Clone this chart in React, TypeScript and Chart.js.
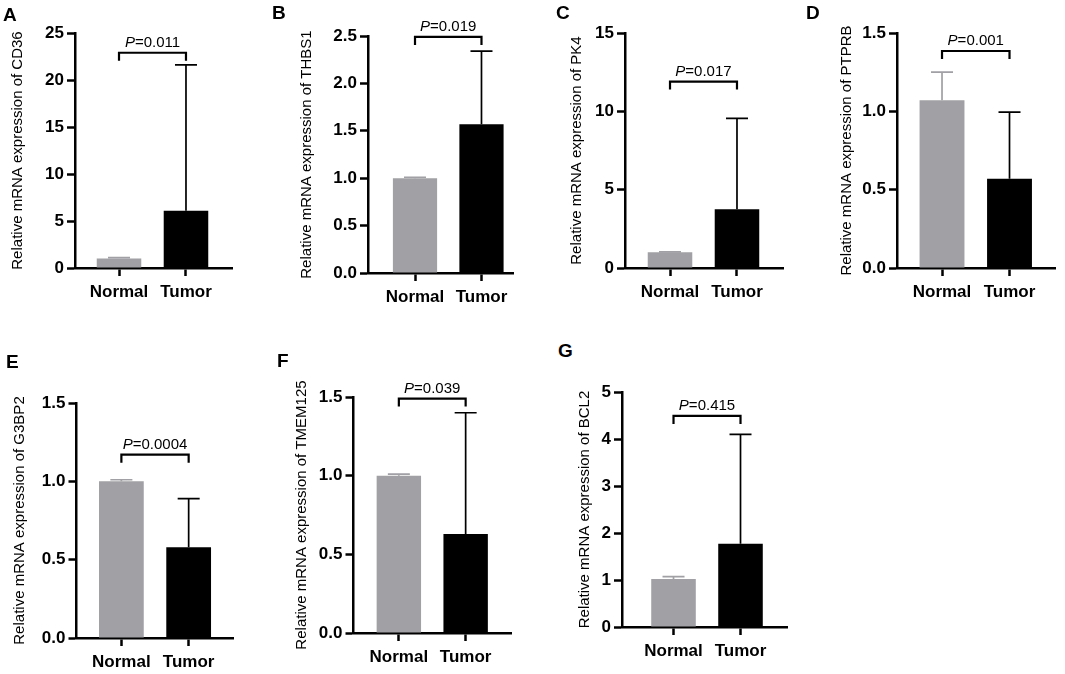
import React, { useEffect, useRef } from "react";
import { Chart, registerables } from "chart.js";
Chart.register(...registerables);

const FONT = "'Liberation Sans', Arial, Helvetica, sans-serif";

// ---------- data ----------
const panelLetters = ["A", "B", "C", "D", "E", "F", "G"];
const genes = ["CD36", "THBS1", "PK4", "PTPRB", "G3BP2", "TMEM125", "BCL2"];
const categories = ["Normal", "Tumor"];
const normalMean = [1.0, 1.0, 1.0, 1.07, 1.0, 1.0, 1.02];
const normalErr = [0.1, 0.01, 0.03, 0.18, 0.01, 0.01, 0.05];
const tumorMean = [6.1, 1.57, 3.75, 0.57, 0.58, 0.63, 1.77];
const tumorErr = [15.5, 0.77, 5.8, 0.425, 0.31, 0.77, 2.33];
const pValues = ["0.011", "0.019", "0.017", "0.001", "0.0004", "0.039", "0.415"];
const bracketY = [22.9, 2.49, 11.9, 1.385, 1.17, 1.49, 4.49];
const yTicksA = ["0", "5", "10", "15", "20", "25"];
const yTicksB = ["0.0", "0.5", "1.0", "1.5", "2.0", "2.5"];
const yTicksC = ["0", "5", "10", "15"];
const yTicksD = ["0.0", "0.5", "1.0", "1.5"];
const yTicksE = ["0.0", "0.5", "1.0", "1.5"];
const yTicksF = ["0.0", "0.5", "1.0", "1.5"];
const yTicksG = ["0", "1", "2", "3", "4", "5"];
const yTickLabels = [yTicksA, yTicksB, yTicksC, yTicksD, yTicksE, yTicksF, yTicksG];

// ---------- layout / style ----------
const GRAY = "#a0a0a5";
const BLACK = "#000000";
type Geo = { tc: number; ax: number; top: number; right: number; bottom: number; xMin: number; xMax: number; lx: number; ly: number };
const geometry: Geo[] = [
  { tc: 18, ax: 75, top: 33, right: 232, bottom: 268, xMin: -0.657, xMax: 1.687, lx: 3, ly: 5 },
  { tc: 307, ax: 368, top: 36, right: 513, bottom: 273, xMin: -0.707, xMax: 1.474, lx: 272, ly: 3 },
  { tc: 577, ax: 625, top: 33, right: 783, bottom: 268, xMin: -0.672, xMax: 1.687, lx: 556, ly: 3 },
  { tc: 847, ax: 897, top: 33, right: 1055, bottom: 268, xMin: -0.667, xMax: 1.674, lx: 806, ly: 3 },
  { tc: 19.5, ax: 76, top: 403, right: 233, bottom: 638, xMin: -0.667, xMax: 1.659, lx: 6, ly: 352 },
  { tc: 301.5, ax: 353, top: 397, right: 511, bottom: 633, xMin: -0.679, xMax: 1.679, lx: 277, ly: 351 },
  { tc: 585, ax: 622, top: 392, right: 787, bottom: 627, xMin: -0.769, xMax: 1.694, lx: 558, ly: 341 },
];

const annotPlugin = {
  id: "annot",
  afterDatasetsDraw(chart: any, _args: any, opts: any) {
    const i: number = opts.i;
    const { ctx } = chart;
    const x = chart.scales.x;
    const y = chart.scales.y;
    ctx.save();
    // error bars
    const means = [normalMean[i], tumorMean[i]];
    const errs = [normalErr[i], tumorErr[i]];
    const cols = [GRAY, BLACK];
    for (let j = 0; j < 2; j++) {
      const px = x.getPixelForValue(j);
      const y0 = y.getPixelForValue(means[j]);
      const y1 = y.getPixelForValue(means[j] + errs[j]);
      ctx.strokeStyle = cols[j];
      ctx.lineWidth = 1.7;
      ctx.beginPath();
      ctx.moveTo(px, y0);
      ctx.lineTo(px, y1);
      ctx.moveTo(px - 11, y1);
      ctx.lineTo(px + 11, y1);
      ctx.stroke();
    }
    // bracket
    const x0 = x.getPixelForValue(0);
    const x1 = x.getPixelForValue(1);
    const yb = y.getPixelForValue(bracketY[i]);
    ctx.strokeStyle = BLACK;
    ctx.lineWidth = 2.2;
    ctx.beginPath();
    ctx.moveTo(x0, yb + 8);
    ctx.lineTo(x0, yb);
    ctx.lineTo(x1, yb);
    ctx.lineTo(x1, yb + 8);
    ctx.stroke();
    // p text
    const fItal = `italic 15px ${FONT}`;
    const fReg = `15px ${FONT}`;
    ctx.font = fItal;
    const wP = ctx.measureText("P").width;
    ctx.font = fReg;
    const rest = "=" + pValues[i];
    const wR = ctx.measureText(rest).width;
    const cx = (x0 + x1) / 2;
    const sx = cx - (wP + wR) / 2;
    ctx.fillStyle = BLACK;
    ctx.textBaseline = "alphabetic";
    ctx.textAlign = "left";
    ctx.font = fItal;
    ctx.fillText("P", sx, yb - 6);
    ctx.font = fReg;
    ctx.fillText(rest, sx + wP, yb - 6);
    ctx.restore();
  },
};

function Panel({ i }: { i: number }) {
  const ref = useRef<HTMLCanvasElement>(null);
  const g = geometry[i];
  const L = g.tc - 9;
  const T = g.top - 32;
  const W = g.right - L + 6;
  const H = g.bottom - T + 40;
  useEffect(() => {
    const labels = yTickLabels[i];
    const yMax = parseFloat(labels[labels.length - 1]);
    const step = parseFloat(labels[1]);
    const gridOpts = { display: true, drawOnChartArea: false, drawTicks: true, tickLength: 8, tickWidth: 2.5, color: BLACK, offset: false };
    const borderOpts = { display: true, color: BLACK, width: 2.5 };
    const chart = new Chart(ref.current as HTMLCanvasElement, {
      type: "bar",
      data: {
        datasets: [
          {
            data: categories.map((_, j) => ({ x: j, y: j === 0 ? normalMean[i] : tumorMean[i] })),
            backgroundColor: [GRAY, BLACK],
            borderWidth: 0,
            barPercentage: 0.665,
            categoryPercentage: 1,
          } as any,
        ],
      },
      options: {
        responsive: false,
        animation: false,
        devicePixelRatio: 1,
        layout: { padding: { top: 32, right: 6, bottom: 0, left: 0 } },
        plugins: { legend: { display: false }, tooltip: { enabled: false }, annot: { i } } as any,
        scales: {
          x: {
            type: "linear",
            min: g.xMin,
            max: g.xMax,
            offset: false,
            grid: gridOpts,
            border: borderOpts,
            afterBuildTicks: (s: any) => {
              s.ticks = categories.map((_, j) => ({ value: j }));
            },
            ticks: {
              callback: (v: any) => categories[Math.round(Number(v))],
              font: { family: FONT, size: 17, weight: "bold" },
              color: BLACK,
              padding: 6,
              maxRotation: 0,
              autoSkip: false,
            },
            afterFit: (s: any) => {
              s.height = 40;
            },
          } as any,
          y: {
            type: "linear",
            min: 0,
            max: yMax,
            grid: gridOpts,
            border: borderOpts,
            ticks: {
              stepSize: step,
              callback: (v: any) => {
                const f = labels.find((l) => Math.abs(parseFloat(l) - Number(v)) < 1e-6);
                return f ?? "";
              },
              font: { family: FONT, size: 17, weight: "bold" },
              color: BLACK,
              padding: 3,
            },
            title: {
              display: true,
              text: `Relative mRNA expression of ${genes[i]}`,
              font: { family: FONT, size: 15 },
              color: BLACK,
              padding: 0,
            },
            afterFit: (s: any) => {
              s.width = g.ax - L;
            },
          } as any,
        },
      },
      plugins: [annotPlugin as any],
    });
    return () => chart.destroy();
  }, []);
  return (
    <>
      <canvas
        ref={ref}
        width={W}
        height={H}
        style={{ position: "absolute", left: L, top: T, width: W, height: H }}
      />
      <div
        style={{
          position: "absolute",
          left: g.lx,
          top: g.ly,
          fontFamily: FONT,
          fontWeight: "bold",
          fontSize: 19,
          lineHeight: "19px",
          color: BLACK,
        }}
      >
        {panelLetters[i]}
      </div>
    </>
  );
}

export default function App() {
  return (
    <div style={{ position: "absolute", left: 0, top: 0, width: 1065, height: 674, background: "#fff", overflow: "hidden" }}>
      {panelLetters.map((_, i) => (
        <Panel key={i} i={i} />
      ))}
    </div>
  );
}
